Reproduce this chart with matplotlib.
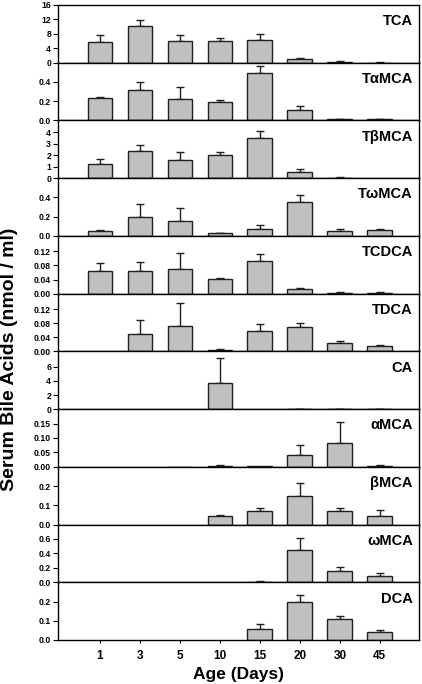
import numpy as np
import matplotlib
matplotlib.use("Agg")
import matplotlib.pyplot as plt

plt.rcParams['font.family'] = ['Liberation Sans', 'DejaVu Sans']

ages = ['1', '3', '5', '10', '15', '20', '30', '45']

names = ['TCA', 'T\u03b1MCA', 'T\u03b2MCA', 'T\u03c9MCA', 'TCDCA', 'TDCA',
         'CA', '\u03b1MCA', '\u03b2MCA', '\u03c9MCA', 'DCA']

tca = [5.7, 10.3, 5.9, 6.1, 6.2, 1.0, 0.2, 0.05]
tca_err = [2.0, 1.6, 1.9, 0.7, 1.7, 0.4, 0.15, 0.05]
tamca = [0.235, 0.32, 0.225, 0.19, 0.49, 0.11, 0.015, 0.012]
tamca_err = [0.005, 0.08, 0.125, 0.02, 0.08, 0.045, 0.004, 0.003]
tbmca = [1.23, 2.37, 1.54, 2.03, 3.46, 0.51, 0.05, 0.0]
tbmca_err = [0.4, 0.49, 0.75, 0.28, 0.65, 0.26, 0.03, 0.0]
towmca = [0.046, 0.20, 0.15, 0.03, 0.077, 0.354, 0.05, 0.06]
towmca_err = [0.012, 0.13, 0.135, 0.003, 0.04, 0.075, 0.017, 0.017]
tcdca = [0.063, 0.065, 0.069, 0.0415, 0.0915, 0.013, 0.001, 0.003]
tcdca_err = [0.023, 0.026, 0.046, 0.004, 0.021, 0.004, 0.003, 0.003]
tdca = [0.0, 0.05, 0.072, 0.003, 0.057, 0.07, 0.0245, 0.016]
tdca_err = [0.0, 0.039, 0.064, 0.003, 0.02, 0.01, 0.004, 0.003]
ca = [0.0, 0.0, 0.0, 3.7, 0.0, 0.03, 0.02, 0.01]
ca_err = [0.0, 0.0, 0.0, 3.6, 0.0, 0.02, 0.02, 0.01]
amca = [0.0, 0.0, 0.001, 0.003, 0.003, 0.042, 0.082, 0.004]
amca_err = [0.0, 0.0, 0.0, 0.002, 0.0, 0.032, 0.072, 0.003]
bmca = [0.0, 0.0, 0.0, 0.045, 0.07, 0.146, 0.072, 0.047]
bmca_err = [0.0, 0.0, 0.0, 0.005, 0.017, 0.068, 0.015, 0.03]
omca = [0.0, 0.0, 0.0, 0.0, 0.01, 0.45, 0.16, 0.088]
omca_err = [0.0, 0.0, 0.0, 0.0, 0.008, 0.17, 0.045, 0.045]
dca = [0.0, 0.0, 0.0, 0.0, 0.056, 0.195, 0.108, 0.043]
dca_err = [0.0, 0.0, 0.0, 0.0, 0.026, 0.04, 0.018, 0.007]

values = [tca, tamca, tbmca, towmca, tcdca, tdca, ca, amca, bmca, omca, dca]
errors = [tca_err, tamca_err, tbmca_err, towmca_err, tcdca_err, tdca_err,
          ca_err, amca_err, bmca_err, omca_err, dca_err]

ylims = [16, 0.6, 5, 0.6, 0.164, 0.164, 8.2, 0.2, 0.3, 0.8, 0.3]
yticks = [[0, 4, 8, 12, 16], [0, 0.2, 0.4], [0, 1, 2, 3, 4], [0, 0.2, 0.4],
          [0, 0.04, 0.08, 0.12], [0, 0.04, 0.08, 0.12], [0, 2, 4, 6],
          [0, 0.05, 0.10, 0.15], [0, 0.1, 0.2], [0, 0.2, 0.4, 0.6], [0, 0.1, 0.2]]
yfmt = ['%d', '%.1f', '%d', '%.1f', '%.2f', '%.2f', '%d', '%.2f', '%.1f', '%.1f', '%.1f']

fig = plt.figure(figsize=(4.22, 6.84), dpi=100)
gs = fig.add_gridspec(len(names), 1, left=58/422, right=419/422,
                      top=1-5/684, bottom=1-640/684, hspace=0)

x = np.arange(len(ages))
for i, name in enumerate(names):
    ax = fig.add_subplot(gs[i])
    v = np.array(values[i])
    err = np.array(errors[i])
    # empty groups (no detectable acid) get no bar at all
    keep = v > 0
    ax.bar(x[keep], v[keep], width=0.62, color='#c0c0c0', edgecolor='#202020',
           linewidth=1.0, zorder=2)
    has_err = err > 0
    ax.errorbar(x[has_err], v[has_err], yerr=[np.zeros(has_err.sum()), err[has_err]],
                fmt='none', ecolor='#202020', elinewidth=1.0, capsize=2.8,
                capthick=1.0, zorder=1)
    ax.set_xlim(-1.05, 7.98)
    ax.set_ylim(0, ylims[i])
    ax.set_yticks(yticks[i])
    ax.set_yticklabels([yfmt[i] % t for t in yticks[i]], fontsize=6.2, fontweight='bold')
    ax.tick_params(axis='y', direction='out', length=3.5, width=0.8, pad=1.5)
    for s in ax.spines.values():
        s.set_linewidth(1.0)
    ax.text(0.983, 0.84, name, transform=ax.transAxes, ha='right', va='top',
            fontsize=10.5, fontweight='bold')
    if i < len(names) - 1:
        ax.set_xticks([])
    else:
        ax.set_xticks(x)
        ax.set_xticklabels(ages, fontsize=8.5, fontweight='bold')
        ax.tick_params(axis='x', direction='out', length=2.5, width=0.8, pad=5)
        ax.set_xlabel('Age (Days)', fontsize=12.5, fontweight='bold', labelpad=3)

fig.text(0.022, 0.474, 'Serum Bile Acids (nmol / ml)', rotation=90,
         ha='center', va='center', fontsize=14, fontweight='bold')

fig.savefig('out.png', dpi=100)
